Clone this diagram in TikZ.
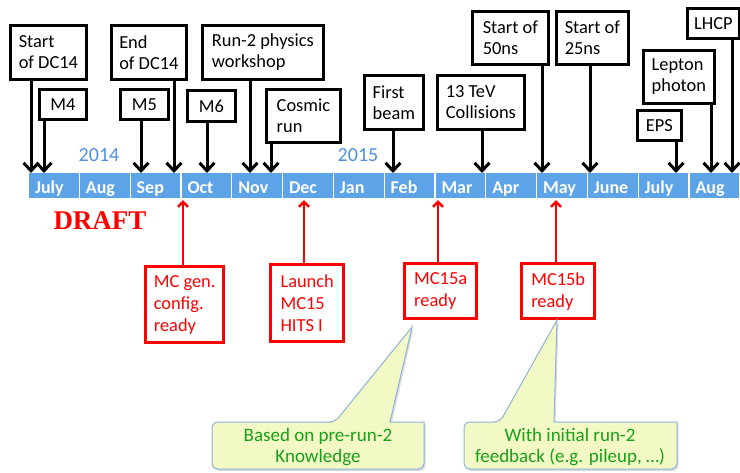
\documentclass[tikz,border=0pt]{standalone}
\usepackage{fontspec}
\setmainfont{Carlito}
\newfontfamily\draftfont{Liberation Serif}
\usetikzlibrary{arrows.meta}
\definecolor{barblue}{RGB}{93,163,231}
\definecolor{yearblue}{RGB}{80,145,222}
\definecolor{callfill}{RGB}{243,249,196}
\definecolor{callborder}{RGB}{140,180,220}
\definecolor{callgreen}{RGB}{25,160,25}
\newcommand\callpath[7]{(#5-10,#3) [rounded corners=6pt] -- (#5,#3) [sharp corners] -- (#7) -- (#6,#3) -- (#2,#3) [rounded corners=6pt] -- (#2,#4) -- (#1,#4) -- (#1,#3) -- cycle}
\begin{document}
\begin{tikzpicture}[x=1pt,y=-1pt,
  bbox/.style={draw=black, line width=2.8pt, fill=white, font=\fontsize{18.4}{21}\selectfont, align=left, anchor=north west, inner sep=0pt},
  rbox/.style={draw=red, line width=3.4pt, fill=white, text=red, font=\fontsize{18.4}{22}\selectfont, align=left, anchor=north west, inner sep=0pt},
  barrow/.style={line width=3pt, -{Straight Barb[length=8pt,width=15pt]}},
  rarrow/.style={draw=red, line width=2.6pt, -{Straight Barb[length=5pt,width=10pt]}},
  cell/.style={anchor=north west, minimum width=50.8pt, minimum height=26pt, fill=barblue, draw=white, line width=1.2pt, text=white, font=\bfseries\fontsize{18}{18}\selectfont, text width=37.8pt, inner xsep=6.5pt, inner ysep=0pt, align=left, text height=16pt, text depth=0pt},
  year/.style={text=yearblue, font=\fontsize{20}{20}\selectfont},
  calltext/.style={text=callgreen, font=\fontsize{19}{21}\selectfont, align=center}
]
\useasboundingbox (0,0) rectangle (740,472);

% timeline bar
\foreach \m [count=\i] in {July,Aug,Sep,Oct,Nov,Dec,Jan,Feb,Mar,Apr,May,June,July,Aug}
  \node[cell] (m\i) at ({28+(\i-1)*50.8},172) {\m};

\node[year] (y2014) at (99,155) {2014};
\node[year] (y2015) at (358,155) {2015};

% black event boxes
\node[bbox, minimum width=76pt, minimum height=54pt] (dcs) at (9,24) {Start\\of DC14};
\node[bbox, minimum width=47pt, minimum height=30pt] (m4) at (38,88) {M4};
\node[bbox, minimum width=75pt, minimum height=54pt] (dce) at (110,24) {End\\of DC14};
\node[bbox, minimum width=48pt, minimum height=30pt] (m5) at (119,88) {M5};
\node[bbox, minimum width=48pt, minimum height=31pt] (m6) at (186,89) {M6};
\node[bbox, minimum width=121pt, minimum height=54pt] (run2) at (201,24) {Run-2 physics\\workshop};
\node[bbox, minimum width=74pt, minimum height=53pt] (cosmic) at (265,88) {Cosmic\\run};
\node[bbox, minimum width=59pt, minimum height=54pt] (beam) at (363,74) {First\\beam};
\node[bbox, minimum width=87pt, minimum height=54pt] (tev) at (436,74) {13 TeV\\Collisions};
\node[bbox, minimum width=76pt, minimum height=53pt] (ns50) at (471,10) {Start of\\50ns};
\node[bbox, minimum width=72pt, minimum height=53pt] (ns25) at (555,10) {Start of\\25ns};
\node[bbox, minimum width=71pt, minimum height=53pt] (lp) at (642,49) {Lepton\\photon};
\node[bbox, minimum width=44pt, minimum height=30pt] (eps) at (636,109) {EPS};
\node[bbox, minimum width=52pt, minimum height=30pt] (lhcp) at (686,7) {LHCP};

% arrow targets on the bar
\coordinate (a1) at (31,173);
\coordinate (a2) at (44,173);
\coordinate (a3) at (174,173);
\coordinate (a4) at (141,173);
\coordinate (a5) at (207,173);
\coordinate (a6) at (250,173);
\coordinate (a7) at (271,173);
\coordinate (a8) at (393,173);
\coordinate (a9) at (482,173);
\coordinate (a10) at (542,173);
\coordinate (a11) at (590,173);
\coordinate (a12) at (711,173);
\coordinate (a13) at (676,173);
\coordinate (a14) at (732,173);

\draw[barrow] (dcs.south -| a1) -- (a1);
\draw[barrow] (m4.south -| a2) -- (a2);
\draw[barrow] (dce.south -| a3) -- (a3);
\draw[barrow] (m5.south -| a4) -- (a4);
\draw[barrow] (m6.south -| a5) -- (a5);
\draw[barrow] (run2.south -| a6) -- (a6);
\draw[barrow] (cosmic.south -| a7) -- (a7);
\draw[barrow] (beam.south -| a8) -- (a8);
\draw[barrow] (tev.south -| a9) -- (a9);
\draw[barrow] (ns50.south -| a10) -- (a10);
\draw[barrow] (ns25.south -| a11) -- (a11);
\draw[barrow] (lp.south -| a12) -- (a12);
\draw[barrow] (eps.south -| a13) -- (a13);
\draw[barrow] (lhcp.south -| a14) -- (a14);

% DRAFT
\node[text=red, font=\draftfont\bfseries\fontsize{27}{27}\selectfont] (draft) at (100,221) {DRAFT};

% red MC boxes
\node[rbox, minimum width=78pt, minimum height=76pt] (mcgen) at (144,265) {MC gen.\\config.\\ready};
\node[rbox, minimum width=73pt, minimum height=77pt] (launch) at (269,263) {Launch\\MC15\\HITS I};
\node[rbox, minimum width=72pt, minimum height=55pt] (mca) at (403,262) {MC15a\\ready};
\node[rbox, minimum width=73pt, minimum height=55pt] (mcb) at (520,262) {MC15b\\ready};

\coordinate (r1) at (183,200);
\coordinate (r2) at (304,200);
\coordinate (r3) at (438,200);
\coordinate (r4) at (556,200);
\draw[rarrow] (mcgen.north -| r1) -- (r1);
\draw[rarrow] (launch.north -| r2) -- (r2);
\draw[rarrow] (mca.north -| r3) -- (r3);
\draw[rarrow] (mcb.north -| r4) -- (r4);

% callouts
\fill[black!40, opacity=.35, shift={(1.5,2)}] \callpath{212}{424}{422}{469}{335}{390}{412,327};
\filldraw[fill=callfill, draw=callborder, line width=1pt] \callpath{212}{424}{422}{469}{335}{390}{412,327};
\fill[black!40, opacity=.35, shift={(1.5,2)}] \callpath{464}{677}{422}{469}{500}{554}{557,320};
\filldraw[fill=callfill, draw=callborder, line width=1pt] \callpath{464}{677}{422}{469}{500}{554}{557,320};
\node[calltext] (c1) at (318,447) {Based on pre-run-2\\Knowledge};
\node[calltext] (c2) at (570,447) {With initial run-2\\feedback (e.g. pileup, \dots)};
\end{tikzpicture}
\end{document}
